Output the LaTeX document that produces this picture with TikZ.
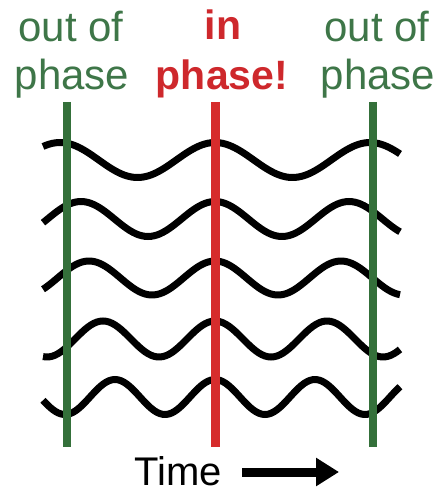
\documentclass[tikz,border=0pt]{standalone}
\usepackage{fontspec}
\setmainfont{Liberation Sans}
\usetikzlibrary{arrows.meta}
\definecolor{phgreen}{RGB}{52,112,58}
\definecolor{phred}{RGB}{214,44,44}
\definecolor{txgreen}{RGB}{62,118,72}
\definecolor{txred}{RGB}{206,40,44}
\tikzset{
  wave/.style={line width=7pt, black, smooth, samples=120},
  outline/.style={line width=8pt, phgreen},
  inline/.style={line width=9pt, phred},
  outlabel/.style={anchor=base, inner sep=0pt, text=txgreen, font=\fontsize{42}{48}\selectfont},
  inlabel/.style={anchor=base, inner sep=0pt, text=txred, font=\bfseries\fontsize{41}{48}\selectfont},
  timelabel/.style={anchor=base, inner sep=0pt, font=\fontsize{40}{46}\selectfont}
}
\begin{document}
\begin{tikzpicture}[x=1pt,y=-1pt]
\useasboundingbox (0,0) rectangle (435,492);
% waves: peaks aligned at x=215
\draw[wave, domain=43:400] plot (\x, {160-17.5*cos((\x-215)/155*360)});
\draw[wave, domain=43:400] plot (\x, {219-17.5*cos((\x-215)/134*360)});
\draw[wave, domain=43:400] plot (\x, {278-17*cos((\x-215)/126*360)});
\draw[wave, domain=43:400] plot (\x, {339-18*cos((\x-215)/112*360)});
\draw[wave, domain=43:400] plot (\x, {397-17.5*cos((\x-215)/100*360)});
% vertical markers
\coordinate (lt) at (67,102);  \coordinate (lb) at (67,447);
\coordinate (mt) at (215,102); \coordinate (mb) at (215,447);
\coordinate (rt) at (373,102); \coordinate (rb) at (373,447);
\draw[outline] (lt) -- (lb);
\draw[inline] (mt) -- (mb);
\draw[outline] (rt) -- (rb);
% labels
\node[outlabel] (l1) at (71,42) {out of};
\node[outlabel] (l2) at (72,90) {phase};
\node[inlabel] (m1) at (223,40) {in};
\node[inlabel] (m2) at (222,90) {phase!};
\node[outlabel] (r1) at (377,42) {out of};
\node[outlabel] (r2) at (378,90) {phase};
% time arrow
\node[timelabel] (time) at (178,485) {Time};
\coordinate (as) at (242,472);
\coordinate (ae) at (339,472);
\draw[line width=9pt, -{Triangle[length=23pt,width=27pt]}] (as) -- (ae);
\end{tikzpicture}
\end{document}
